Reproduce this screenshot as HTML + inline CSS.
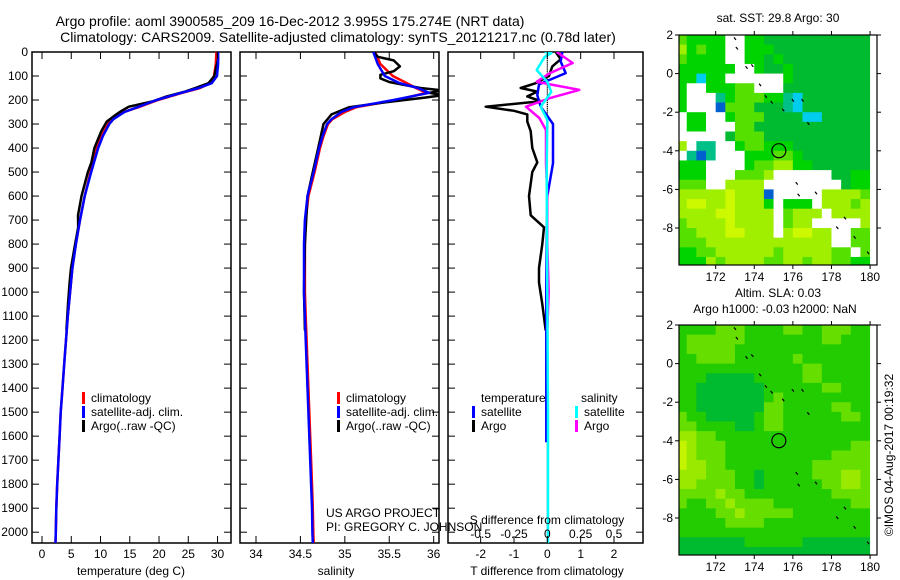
<!DOCTYPE html>
<html><head><meta charset="utf-8"><style>
html,body{margin:0;padding:0;background:#fff;}
svg{display:block;font-family:"Liberation Sans",sans-serif;}
</style></head><body>
<svg id="fig" width="900" height="580" viewBox="0 0 900 580" xmlns="http://www.w3.org/2000/svg">
<text x="290" y="26" font-size="14" text-anchor="middle">Argo profile: aoml 3900585_209 16-Dec-2012 3.995S 175.274E (NRT data)</text>
<text x="338" y="42" font-size="14" text-anchor="middle">Climatology: CARS2009. Satellite-adjusted climatology: synTS_20121217.nc (0.78d later)</text>
<g id="g"></g>
</svg>
<script>
// ---- profile data ----
const climDepth = [0,50,100,130,150,170,200,230,250,280,300,350,400,500,600,700,800,900,1000,1100,1200,1300,1400,1500,1600,1700,1800,1900,2000,2045];
const climT = [29.8,29.7,29.4,28.8,27,24,19.8,16.5,14,12,11.3,10.2,9.4,8.3,7.3,6.5,5.8,5.2,4.8,4.4,4.1,3.8,3.5,3.2,3.0,2.8,2.6,2.45,2.35,2.3];
const satT = [30.1,30.1,29.9,29.0,26.8,23.8,19.6,16.3,14.1,12.2,11.5,10.4,9.6,8.4,7.3,6.5,5.8,5.2,4.8,4.4,4.1,3.8,3.5,3.2,3.0,2.8,2.6,2.45,2.35,2.3];
const climS = [35.34,35.4,35.54,35.7,35.8,35.92,35.58,35.13,35.0,34.86,34.81,34.76,34.72,34.66,34.59,34.56,34.55,34.55,34.55,34.56,34.57,34.58,34.59,34.6,34.61,34.62,34.63,34.64,34.645,34.65];
const satS = [35.32,35.37,35.45,35.62,35.82,35.95,35.55,35.1,34.96,34.85,34.8,34.75,34.71,34.65,34.58,34.55,34.54,34.54,34.54,34.55,34.56,34.57,34.58,34.59,34.6,34.61,34.62,34.63,34.635,34.64];
const argoTDepth = [0,30,60,100,130,150,165,185,205,228,245,260,290,330,400,460,500,600,680,730,800,900,960,1050,1160];
const argoT = [30.05,30.1,29.8,29.45,28.45,26.2,24.45,21.3,19.0,14.85,13.6,12.7,11.05,10.14,8.95,8.44,7.85,6.75,6.16,6.19,5.65,4.95,4.71,4.45,4.17];
const argoTdiff = [0.25,0.4,0.15,0.05,-0.35,-0.8,-0.3,-0.6,-0.2,-1.85,-1.0,-0.6,-0.6,-0.5,-0.45,-0.3,-0.45,-0.55,-0.5,-0.1,-0.15,-0.25,-0.25,-0.15,-0.05];
const argoSDepth = [0,20,35,60,80,95,110,125,150,160,170,180,190,210,230,260,300,400,500,600,800,1000,1160];
const argoS = [35.33,35.37,35.55,35.62,35.55,35.4,35.4,35.5,35.85,36.1,35.95,36.1,35.9,35.45,35.05,34.85,34.76,34.7,34.64,34.58,34.55,34.54,34.55];
const satTDiffDepth = [0,40,88,135,180,228,300,463,600,800,1000,1200,1400,1625];
const satTdiff = [0.45,0.4,0.55,-0.25,-0.3,-0.2,0.17,0.17,0.0,-0.02,-0.03,-0.03,-0.03,-0.03];
const argoSDiffDepth = [0,46,88,124,158,192,228,275,325,463,600,800,1000,1160];
const argoSdiff = [0.07,0.19,0.02,-0.08,0.24,0.02,-0.16,-0.06,-0.01,-0.01,0.0,0.0,0.01,0.0];
const satSDiffDepth = [0,5,20,75,124,166,228,283,500,1000,1500,2045];
const satSdiff = [-0.02,0.03,-0.02,-0.08,0.0,0.03,-0.05,0.0,-0.005,0.0,0.005,0.005];
const depthTicks = [0,100,200,300,400,500,600,700,800,900,1000,1100,1200,1300,1400,1500,1600,1700,1800,1900,2000];
const tTicks = [0,5,10,15,20,25,30];
const sTicks = [34,34.5,35,35.5,36];
const dTTicks = [-2,-1,0,1,2];
const dSTicks = [-0.5,-0.25,0,0.25,0.5];
const latTicks = [2,0,-2,-4,-6,-8];
const lonTicks = [172,174,176,178,180];
// ---- map data (0.5 deg cells, rows lat 2 -> -10, cols lon 170 -> 180) ----
const sstRows = [
"32222002211111111111","42322002221111111111","32222002212111111111","22222200211211111111",
"22622000000211111111","20022233000111111111","20007233322761111111","20008333111761111111",
"02200233311116611111","02200033111111111111","00000133311111111111","40770023322211111111",
"07870002223321111111","22200002334422111111","22200033340000001122","33300444400000000122",
"44444544480000044443","45544544420222044434","44445544440344404444","34444544440344000004",
"33444554440455440033","33344444444444440033","22334444443444443303","22243444433443443322"];
const slaRows = [
"22223332222332233322","23333332222222233222","23333322222222222222","22333322222232222222",
"22222222222223322222","22211111222223322222","22111111122222233222","22111111123222222222",
"22111111133222223322","32211111233222222332","33222211233222222222","44332222222222222222",
"54333222222222222233","54333222222222223333","54433222222222333333","44433322122222333443",
"44333322122222233443","33334332222222223333","32233433332222222233","22223343333322222222",
"22222333322222222222","22222222222222222222","11111112222221111111","11111111111111111111"];
const islandLon = [173.0,173.1,173.6,173.9,174.3,174.6,174.9,175.5,176.0,176.5,176.8,176.2,177.2,178.3,178.7,179.2,179.9,176.3];
const islandLat = [1.8,1.3,0.3,0.4,-0.6,-1.2,-1.5,-1.9,-1.4,-1.4,-2.6,-5.7,-6.2,-8.0,-7.5,-8.5,-9.3,-6.3];
const argoLon = 175.274, argoLat = -3.995;

const NS = "http://www.w3.org/2000/svg";
const G = document.getElementById('g');
function el(tag, attrs, parent){const e=document.createElementNS(NS,tag);for(const k in attrs)e.setAttribute(k,attrs[k]);(parent||G).appendChild(e);return e;}
function txt(x,y,s,attrs,parent){const t=el('text',Object.assign({x:x,y:y,'font-size':12},attrs||{}),parent);t.textContent=s;return t;}

const Y0=52, Y1=543, DMAX=2045;
const yD = d => Y0 + d*(Y1-Y0)/DMAX;

function panel(name,x0,x1,vmin,vmax){
  const g=el('g',{});
  
  
  const r=el('rect',{x:x0,y:Y0,width:x1-x0,height:Y1-Y0,fill:'none',stroke:'#000','stroke-width':1.5},g);
  
  
  for(const d of depthTicks){
    el('line',{x1:x0,x2:x0+7,y1:yD(d),y2:yD(d),stroke:'#000'},g);
    el('line',{x1:x1-7,x2:x1,y1:yD(d),y2:yD(d),stroke:'#000'},g);
  }
  return {g:g, x:v=>x0+(v-vmin)*(x1-x0)/(vmax-vmin)};
}
function line(p,depths,vals,color,name,w){
  const pts=depths.map((d,i)=>p.x(vals[i]).toFixed(1)+','+yD(d).toFixed(1)).join(' ');
  const l=el('polyline',{points:pts,fill:'none',stroke:color,'stroke-width':w||2.5,'stroke-linejoin':'round'},p.g);
  
  
}
const defs=el('defs',{});
function clip(id,x0,x1){const c=el('clipPath',{id:id},defs);el('rect',{x:x0,y:Y0,width:x1-x0,height:Y1-Y0},c);}

for(const d of depthTicks){
  const t=txt(28,yD(d)+4,String(d),{'text-anchor':'end'});
  
  
}

// Temperature panel
const pT=panel('temperature-panel',32,231,-1.71,32.3);
clip('cT',32,231);
const gT=el('g',{'clip-path':'url(#cT)'},pT.g);
const pTc={g:gT,x:pT.x};
line(pTc,climDepth,climT,'#f00','temp-climatology-line');
line(pTc,argoTDepth,argoT,'#000','temp-argo-line');
line(pTc,climDepth,satT,'#00f','temp-satellite-line');
for(const v of tTicks){
  el('line',{x1:pT.x(v),x2:pT.x(v),y1:Y1,y2:Y1-7,stroke:'#000'},pT.g);
  el('line',{x1:pT.x(v),x2:pT.x(v),y1:Y0,y2:Y0+7,stroke:'#000'},pT.g);
  const t=txt(pT.x(v),558,String(v),{'text-anchor':'middle'});
  
  
}
txt(131,575,'temperature (deg C)',{'text-anchor':'middle'});

// Salinity panel
const pS=panel('salinity-panel',240,439,33.82,36.06);
clip('cS',240,439);
const gS=el('g',{'clip-path':'url(#cS)'},pS.g);
const pSc={g:gS,x:pS.x};
line(pSc,climDepth,climS,'#f00','sal-climatology-line');
line(pSc,argoSDepth,argoS,'#000','sal-argo-line');
line(pSc,climDepth,satS,'#00f','sal-satellite-line');
for(const v of sTicks){
  el('line',{x1:pS.x(v),x2:pS.x(v),y1:Y1,y2:Y1-7,stroke:'#000'},pS.g);
  el('line',{x1:pS.x(v),x2:pS.x(v),y1:Y0,y2:Y0+7,stroke:'#000'},pS.g);
  const t=txt(pS.x(v),558,String(v),{'text-anchor':'middle'});
  
  
}
txt(336,575,'salinity',{'text-anchor':'middle'});

// Difference panel
const pD=panel('difference-panel',448,643,-2.98,2.87);
const xDS = v => pD.x(0) + v*(pD.x(1)-pD.x(0))*4; // 0.5 S == 2 T
clip('cD',448,643);
const gD=el('g',{'clip-path':'url(#cD)'},pD.g);
for(let d=0; d<2045; d+=8){ el('line',{x1:pD.x(0),x2:pD.x(0),y1:yD(d),y2:yD(d)+1.2,stroke:'#000','stroke-width':1.2},gD); }
const pDc={g:gD,x:pD.x};
line(pDc,argoTDepth,argoTdiff,'#000','temp-diff-argo-line');
line(pDc,satTDiffDepth,satTdiff,'#00f','temp-diff-satellite-line');
const pDs={g:gD,x:xDS};
line(pDs,argoSDiffDepth,argoSdiff,'#f0f','sal-diff-argo-line');
line(pDs,satSDiffDepth,satSdiff,'#0ff','sal-diff-satellite-line');
for(const v of dTTicks){
  el('line',{x1:pD.x(v),x2:pD.x(v),y1:Y1,y2:Y1-7,stroke:'#000'},pD.g);
  const t=txt(pD.x(v),558,String(v),{'text-anchor':'middle'});
  
  
}
for(const v of dSTicks){
  el('line',{x1:xDS(v),x2:xDS(v),y1:Y0,y2:Y0+7,stroke:'#000'},pD.g);
  const t=txt(xDS(v),538,String(v),{'text-anchor':'middle'});
  
  
}
txt(547,524,'S difference from climatology',{'text-anchor':'middle'});
txt(547,575,'T difference from climatology',{'text-anchor':'middle'});

function legend(x,y,items,name){
  items.forEach((it,i)=>{
    const b=el('rect',{x:x,y:y+i*14-10,width:3,height:12,fill:it[0]});
    
    
    const t=txt(x+9,y+i*14,it[1]);
    
    
  });
}
legend(82,402,[['#f00','climatology'],['#00f','satellite-adj. clim.'],['#000','Argo(..raw -QC)']],'temp-legend');
legend(337,402,[['#f00','climatology'],['#00f','satellite-adj. clim.'],['#000','Argo(..raw -QC)']],'sal-legend');
txt(481,402,'temperature');
txt(581,402,'salinity');
legend(472,416,[['#00f','satellite'],['#000','Argo']],'diff-legend-temp');
legend(575,416,[['#0ff','satellite'],['#f0f','Argo']],'diff-legend-sal');
txt(326,517,'US ARGO PROJECT');
txt(326,531,'PI: GREGORY C. JOHNSON');

// maps
const MX0=679, MX1=877, PX=19.3, LON0=170.1;
const sstColors={'0':'#ffffff','1':'#00bb30','2':'#00d400','3':'#55e000','4':'#a0ee00','5':'#ccf800','6':'#00ccee','7':'#00c088','8':'#0060d0'};
const slaColors={'1':'#00bb30','2':'#22cc00','3':'#66de00','4':'#99ea00','5':'#c4f400'};
function map(name,top,rows,colors,title){
  const g=el('g',{});
  
  
  const bot=top+230;
  const cid='c'+name;
  const c=el('clipPath',{id:cid},defs); el('rect',{x:MX0,y:top,width:MX1-MX0,height:bot-top},c);
  const gc=el('g',{'clip-path':'url(#'+cid+')'},g);
  const xL=lon=>MX0+(lon-LON0)*PX, yL=lat=>top+(2-lat)*PX;
  rows.forEach((row,r)=>{
    for(let ci=0;ci<row.length;ci++){
      const lon=170+ci*0.5, lat=2-r*0.5;
      const cell=el('rect',{x:xL(lon).toFixed(2),y:yL(lat).toFixed(2),width:PX*0.5+0.4,height:PX*0.5+0.4,fill:colors[row[ci]]},gc);
      
      
    }
  });
  el('rect',{x:xL(180),y:top,width:MX1-xL(180),height:bot-top,fill:'#fff'},gc);
  islandLon.forEach((lon,i)=>{
    const s=el('line',{x1:xL(lon)-1,y1:yL(islandLat[i])-1.5,x2:xL(lon)+1,y2:yL(islandLat[i])+1,stroke:'#000','stroke-width':1.2},gc);
    
    
  });
  const m=el('circle',{cx:xL(argoLon),cy:yL(argoLat),r:7,fill:'none',stroke:'#000','stroke-width':1.2},g);
  
  
  el('rect',{x:MX0,y:top,width:MX1-MX0,height:bot-top,fill:'none',stroke:'#000','stroke-width':1.2},g);
  for(const lat of latTicks){
    el('line',{x1:MX0-4,x2:MX0,y1:yL(lat),y2:yL(lat),stroke:'#000'},g);
    el('line',{x1:MX1,x2:MX1+4,y1:yL(lat),y2:yL(lat),stroke:'#000'},g);
    const t=txt(MX0-6,yL(lat)+4,String(lat),{'text-anchor':'end'},g);
    
    
  }
  for(const lon of lonTicks){
    el('line',{x1:xL(lon),x2:xL(lon),y1:top-4,y2:top,stroke:'#000'},g);
    el('line',{x1:xL(lon),x2:xL(lon),y1:bot,y2:bot+4,stroke:'#000'},g);
    const t=txt(xL(lon),bot+16,String(lon),{'text-anchor':'middle'},g);
    
    
  }
  title.forEach((s,i)=>{
    const t=txt(i===0?778:775, title.length===1?top-22+9:top-28+i*16, s,{'text-anchor':'middle'},g);
    
    
  });
}
map('sst-map',35,sstRows,sstColors,['sat. SST: 29.8 Argo: 30']);
map('sla-map',325,slaRows,slaColors,['Altim. SLA: 0.03','Argo h1000: -0.03 h2000: NaN']);
const cr=txt(0,0,'©IMOS 04-Aug-2017 00:19:32',{'text-anchor':'middle',transform:'translate(893,455) rotate(-90)'});


</script>
</body></html>
